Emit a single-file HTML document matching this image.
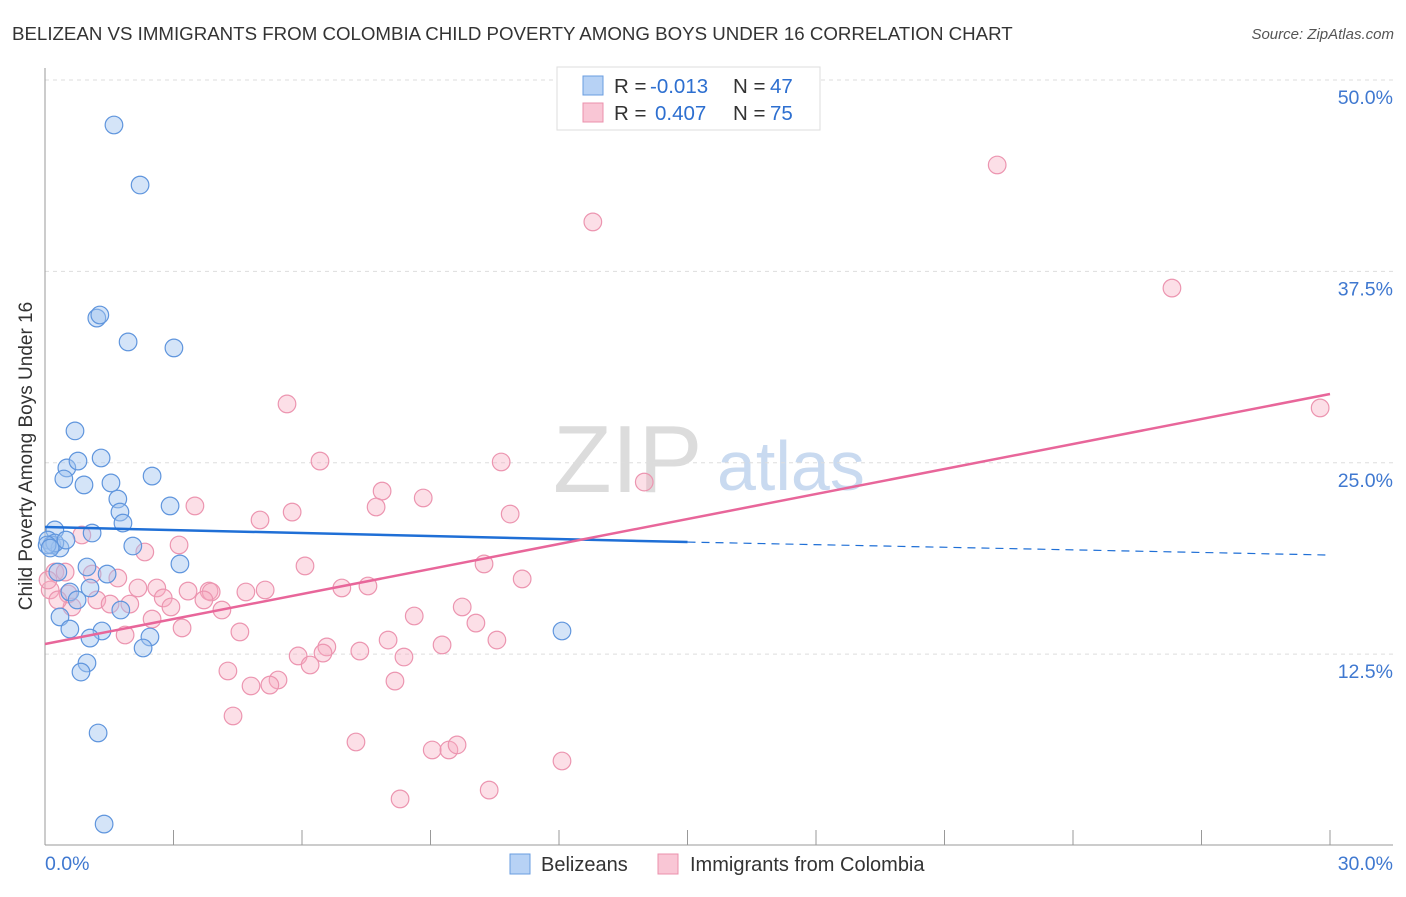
<!DOCTYPE html>
<html><head><meta charset="utf-8"><style>
body{margin:0;background:#fff;font-family:"Liberation Sans",sans-serif}
svg text{font-family:"Liberation Sans",sans-serif}
</style></head><body>
<svg id="chart" width="1406" height="892">
<text x="12" y="40" font-size="18.7" fill="#333">BELIZEAN VS IMMIGRANTS FROM COLOMBIA CHILD POVERTY AMONG BOYS UNDER 16 CORRELATION CHART</text>
<text x="1394" y="39" font-size="15" fill="#555" font-style="italic" text-anchor="end">Source: ZipAtlas.com</text>
<g>
<text x="553" y="492" font-size="96" fill="#dcdcdc" font-family="Liberation Serif">ZIP</text>
<text x="717" y="490" font-size="70" fill="#c9daf0">atlas</text>
</g>
<g id="grid"></g>
<g id="axes"></g>
<g id="pts"></g>
<g id="lines"></g>
<text x="32" y="456" font-size="19" fill="#333" text-anchor="middle" transform="rotate(-90 32 456)">Child Poverty Among Boys Under 16</text>
<g>
<rect x="557" y="67" width="263" height="63" fill="#fff" stroke="#ddd"/>
<rect x="583" y="76" width="20" height="19" fill="#b7d2f5" stroke="#6a9de0"/>
<rect x="583" y="103" width="20" height="19" fill="#f9c6d5" stroke="#eb90ac"/>
<text y="93" font-size="20.5"><tspan x="614" fill="#333">R = </tspan><tspan x="650" fill="#2d6fd0">-0.013</tspan><tspan x="733" fill="#333">N = </tspan><tspan x="770" fill="#2d6fd0">47</tspan></text>
<text y="120" font-size="20.5"><tspan x="614" fill="#333">R = </tspan><tspan x="655" fill="#2d6fd0">0.407</tspan><tspan x="733" fill="#333">N = </tspan><tspan x="770" fill="#2d6fd0">75</tspan></text>
</g>
<g>
<rect x="510" y="854" width="20" height="20" fill="#b7d2f5" stroke="#6a9de0"/>
<text x="541" y="871" font-size="20" fill="#333">Belizeans</text>
<rect x="658" y="854" width="20" height="20" fill="#f9c6d5" stroke="#eb90ac"/>
<text x="690" y="871" font-size="20" fill="#333">Immigrants from Colombia</text>
</g>
</svg>
<script>
const yTicks=[12.5,25,37.5,50];
const yTickLabels=["12.5%","25.0%","37.5%","50.0%"];
const xTickLabels=["0.0%","30.0%"];
const blueX=[1.61,2.22,1.21,1.28,1.94,3.01,0.70,0.51,0.77,1.31,0.44,0.91,1.54,2.50,1.70,1.75,1.82,2.92,1.10,0.23,0.07,0.16,0.35,0.23,0.49,2.05,3.15,0.30,0.98,1.45,0.58,1.05,0.75,1.77,0.35,0.58,1.33,1.05,2.45,2.29,0.98,0.84,1.24,1.38,12.07,0.05,0.12];
const blueY=[47.06,43.14,34.45,34.65,32.89,32.50,27.08,24.66,25.11,25.31,23.94,23.55,23.68,24.13,22.63,21.78,21.06,22.18,20.41,20.61,19.95,19.63,19.43,19.76,19.95,19.56,18.39,17.86,18.19,17.73,16.56,16.82,16.04,15.38,14.93,14.14,14.01,13.55,13.62,12.90,11.92,11.33,7.35,1.40,14.01,19.63,19.43];
const pinkX=[22.23,12.79,26.31,29.77,5.65,6.42,10.65,13.99,7.87,8.83,7.73,5.77,10.86,3.50,5.02,0.86,2.33,3.13,6.07,10.25,11.14,0.23,1.10,1.70,2.17,6.93,7.54,2.61,3.34,4.69,5.14,3.83,3.88,0.12,0.54,1.21,2.76,3.71,1.98,9.74,0.63,1.52,2.94,4.13,8.62,10.06,2.50,1.87,3.20,4.55,8.01,10.55,9.27,6.58,7.35,6.49,5.91,8.38,6.19,4.27,5.44,4.81,5.25,8.17,4.39,7.26,9.04,9.43,9.62,12.07,8.29,10.37,0.07,0.30,0.47];
const pinkY=[44.45,40.73,36.41,28.58,28.84,25.11,25.05,23.74,23.15,22.70,22.11,21.78,21.65,22.18,21.26,20.28,19.17,19.63,18.26,18.39,17.41,17.86,17.73,17.47,16.82,16.82,16.95,16.82,16.62,16.56,16.69,16.62,16.56,16.69,16.43,16.04,16.17,16.04,15.77,15.58,15.58,15.77,15.58,15.38,14.99,14.53,14.79,13.75,14.21,13.95,13.42,13.42,13.10,12.97,12.70,12.57,12.38,12.31,11.79,11.40,10.81,10.42,10.48,10.74,8.46,6.76,6.24,6.24,6.57,5.52,3.04,3.62,17.34,16.04,17.86];
const blueTrend=[20.80,19.82,18.97];
const pinkTrend=[13.16,29.49];
const NS="http://www.w3.org/2000/svg";
const xs=v=>45+v*(1285/30);
const ys=v=>80+(50-v)*15.31;
function mk(tag,attrs,parent){const e=document.createElementNS(NS,tag);for(const k in attrs)e.setAttribute(k,attrs[k]);parent.appendChild(e);return e;}
const grid=document.getElementById('grid'),axes=document.getElementById('axes'),pts=document.getElementById('pts'),lines=document.getElementById('lines');
yTicks.forEach((t,i)=>{
 const l=mk('line',{x1:45,x2:1393,y1:ys(t),y2:ys(t),stroke:'#ddd','stroke-dasharray':'4,4'},grid);
 
 
 const tx=mk('text',{x:1393,y:ys(t)+24,'font-size':19.5,fill:'#3f78d0','text-anchor':'end'},axes);
 tx.textContent=yTickLabels[i];
 
 
});
const ax=mk('line',{x1:45,x2:45,y1:68,y2:845,stroke:'#999'},axes);


const bx=mk('line',{x1:45,x2:1393,y1:845,y2:845,stroke:'#999'},axes);


for(let i=0;i<=10;i++){const v=i*3;const t=mk('line',{x1:xs(v),x2:xs(v),y1:830,y2:845,stroke:'#999'},axes);
 
 }
[[0,'start'],[30,'end']].forEach((d,i)=>{const t=mk('text',{x:i?1393:45,y:870,'font-size':19.5,fill:'#3f78d0','text-anchor':d[1]},axes);t.textContent=xTickLabels[i];
 
 });
pinkX.forEach((x,i)=>{const c=mk('circle',{cx:xs(x),cy:ys(pinkY[i]),r:8.8,fill:'rgba(246,170,192,0.38)',stroke:'#ec95b0','stroke-width':1.2},pts);
 
 });
blueX.forEach((x,i)=>{const c=mk('circle',{cx:xs(x),cy:ys(blueY[i]),r:8.8,fill:'rgba(160,195,240,0.45)',stroke:'#5f95dd','stroke-width':1.2},pts);
 
 });
const b1=mk('line',{x1:xs(0),y1:ys(blueTrend[0]),x2:xs(15),y2:ys(blueTrend[1]),stroke:'#1f6fd6','stroke-width':2.5},lines);


const b2=mk('line',{x1:xs(15),y1:ys(blueTrend[1]),x2:xs(30),y2:ys(blueTrend[2]),stroke:'#1f6fd6','stroke-width':1.2,'stroke-dasharray':'8,6'},lines);


const p1=mk('line',{x1:xs(0),y1:ys(pinkTrend[0]),x2:xs(30),y2:ys(pinkTrend[1]),stroke:'#e8669a','stroke-width':2.5},lines);


</script>
</body></html>
